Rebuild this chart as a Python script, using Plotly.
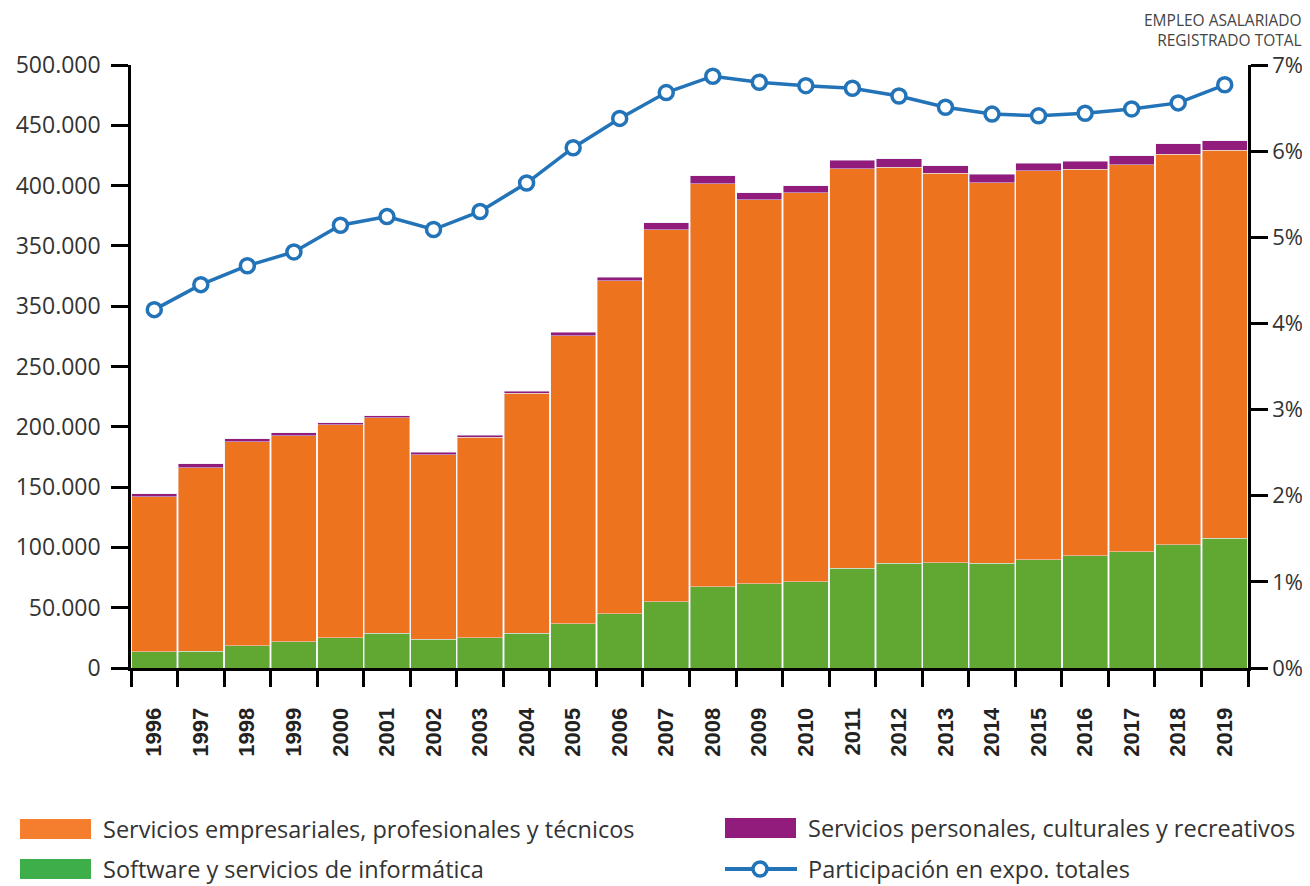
import plotly.graph_objects as go

# values
years = [str(y) for y in range(1996, 2020)]

software = [13500, 14100, 18500, 21800, 25100, 28700, 24000, 25100, 29000, 36700,
            45000, 55000, 67200, 69900, 71600, 82900, 87000, 87100, 86800, 89600,
            92900, 96500, 102000, 107500]

# top of the orange segment (cumulative)
empresariales_top = [142000, 166100, 187600, 192600, 201500, 207600, 176900, 191500,
                     228000, 275300, 321200, 363500, 401600, 388100, 393900, 414000,
                     415400, 410400, 402400, 412400, 413700, 417100, 426200, 429300]

# top of the purple segment (total)
total = [144300, 169200, 189900, 194900, 203200, 209000, 179100, 193200, 229500,
         278600, 324200, 369000, 408000, 393900, 399700, 421200, 422300, 416300,
         409600, 418700, 420400, 424800, 434500, 437000]

empresariales = [t - s for t, s in zip(empresariales_top, software)]
personales = [t - e for t, e in zip(total, empresariales_top)]

participacion = [4.16, 4.45, 4.67, 4.83, 5.14, 5.24, 5.09, 5.30, 5.63, 6.04, 6.38,
                 6.68, 6.87, 6.80, 6.76, 6.73, 6.64, 6.51, 6.43, 6.41, 6.44, 6.49,
                 6.56, 6.77]

left_ticks = [0, 50000, 100000, 150000, 200000, 250000, 300000, 350000, 400000,
              450000, 500000]
left_labels = ["0", "50.000", "100.000", "150.000", "200.000", "250.000", "350.000",
               "350.000", "400.000", "450.000", "500.000"]
right_ticks = [0, 1, 2, 3, 4, 5, 6, 7]
right_labels = ["0%", "1%", "2%", "3%", "4%", "5%", "6%", "7%"]

legend_names = ["Servicios empresariales, profesionales y técnicos",
                "Software y servicios de informática",
                "Servicios personales, culturales y recreativos",
                "Participación en expo. totales"]

ORANGE = "#EE731E"
GREEN = "#61A832"
PURPLE = "#921C7B"
BLUE = "#2273B8"

# page has an 8px body margin, so the figure is drawn 8px in from the corner
OFF = 8
W, H = 1310 - OFF, 886 - OFF
L, R, T, B = 131 - OFF, 62, 65 - OFF, 218
PW, PH = W - L - R, H - T - B


def px(x):
    return (x - OFF - L) / PW


def py(y):
    return (H - B - (y - OFF)) / PH


fig = go.Figure()
fig.add_trace(go.Bar(x=years, y=software, marker_color=GREEN, name=legend_names[1]))
fig.add_trace(go.Bar(x=years, y=empresariales, marker_color=ORANGE, name=legend_names[0]))
fig.add_trace(go.Bar(x=years, y=personales, marker_color=PURPLE, name=legend_names[2]))
fig.add_trace(go.Scatter(
    x=years, y=participacion, yaxis="y2", mode="lines+markers",
    line=dict(color=BLUE, width=3.5),
    marker=dict(symbol="circle", size=14, color="white", line=dict(color=BLUE, width=3.5)),
    name=legend_names[3], cliponaxis=False))

tick_font = dict(family="Open Sans", size=23, color="#333333")

fig.update_layout(
    width=W, height=H,
    margin=dict(l=L, r=R, t=T, b=B, autoexpand=False),
    paper_bgcolor="white", plot_bgcolor="white",
    barmode="stack", bargap=0.03,
    showlegend=False,
    xaxis=dict(type="category", range=[-0.5, len(years) - 0.5], tickson="boundaries",
               ticks="outside", ticklen=16, tickwidth=2.5, tickcolor="black",
               showline=True, linecolor="black", linewidth=3, tickangle=-90,
               showgrid=False, automargin=False,
               tickfont=dict(family="Liberation Sans", size=22, color="#222222", weight="bold"),
               ticklabelstandoff=28),
    yaxis=dict(range=[0, 500000], tickvals=left_ticks, ticktext=left_labels,
               ticks="outside", ticklen=17, tickwidth=2.5, tickcolor="black",
               showline=True, linecolor="black", linewidth=2.5, showgrid=False,
               zeroline=False, tickfont=tick_font, ticklabelstandoff=6, automargin=False),
    yaxis2=dict(range=[0, 7], tickvals=right_ticks, ticktext=right_labels,
                overlaying="y", side="right", ticks="outside", ticklen=17,
                tickwidth=2.5, tickcolor="black", showline=True, linecolor="black",
                linewidth=2.5, showgrid=False, zeroline=False,
                tickfont=dict(family="Open Sans", size=22, color="#333333"),
                automargin=False),
)

fig.add_annotation(text="EMPLEO ASALARIADO<br>REGISTRADO TOTAL", xref="paper", yref="paper",
                   x=px(1304), y=py(7), xanchor="right", yanchor="top", align="right",
                   showarrow=False, font=dict(family="Open Sans", size=15.5, color="#444444"))

# legend drawn by hand to match the wide swatches
legend_items = [
    (20, 829, "rect", "#F47E2E", legend_names[0]),
    (20, 869, "rect", "#3DAE4A", legend_names[1]),
    (725, 828, "rect", PURPLE, legend_names[2]),
    (725, 869, "line", BLUE, legend_names[3]),
]
for x0, yc, kind, color, label in legend_items:
    if kind == "rect":
        fig.add_shape(type="rect", xref="paper", yref="paper", x0=px(x0), x1=px(x0 + 71),
                      y0=py(yc + 10), y1=py(yc - 10), fillcolor=color, line_width=0)
    else:
        fig.add_shape(type="line", xref="paper", yref="paper", x0=px(x0), x1=px(x0 + 72),
                      y0=py(yc), y1=py(yc), line=dict(color=color, width=4))
        fig.add_shape(type="circle", xref="paper", yref="paper", xsizemode="pixel",
                      ysizemode="pixel", xanchor=px(x0 + 35), yanchor=py(yc),
                      x0=-7, x1=7, y0=-7, y1=7, fillcolor="white",
                      line=dict(color=color, width=3.5))
    fig.add_annotation(text=label, xref="paper", yref="paper", x=px(x0 + 81), y=py(yc),
                       xanchor="left", yanchor="middle", showarrow=False,
                       font=dict(family="Open Sans", size=23.5, color="#333333"))

fig.write_html("out.html")
